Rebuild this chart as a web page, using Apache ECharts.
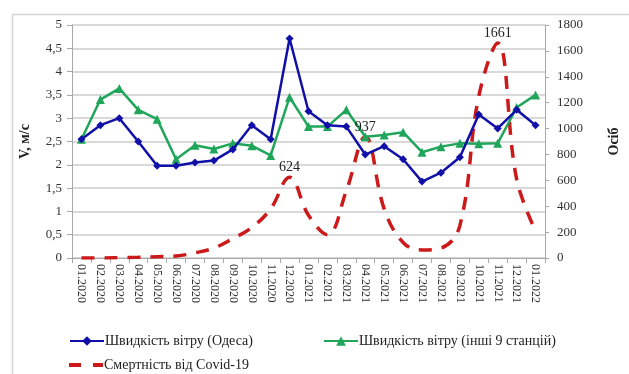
<!DOCTYPE html>
<html>
<head>
<meta charset="utf-8">
<script src="https://cdn.jsdelivr.net/npm/echarts@6/dist/echarts.min.js"></script>
<style>
html,body{margin:0;padding:0;background:#fff;}
#chart{width:629px;height:374px;}
</style>
</head>
<body>
<div id="chart"></div>
<script>
const categories = ['01.2020','02.2020','03.2020','04.2020','05.2020','06.2020','07.2020','08.2020','09.2020','10.2020','11.2020','12.2020',
  '01.2021','02.2021','03.2021','04.2021','05.2021','06.2021','07.2021','08.2021','09.2021','10.2021','11.2021','12.2021','01.2022'];
const windOdesa = [2.55, 2.85, 3.0, 2.5, 1.98, 1.98, 2.05, 2.09, 2.33, 2.85, 2.55, 4.71,
  3.15, 2.85, 2.82, 2.22, 2.4, 2.12, 1.64, 1.83, 2.16, 3.08, 2.78, 3.18, 2.85];
const windOther = [2.55, 3.4, 3.64, 3.18, 2.98, 2.12, 2.42, 2.34, 2.46, 2.41, 2.2, 3.45,
  2.82, 2.82, 3.18, 2.6, 2.64, 2.7, 2.27, 2.39, 2.46, 2.45, 2.46, 3.23, 3.5];
const covidDeaths = [0, 0, 2, 5, 10, 15, 40, 77, 150, 235, 380, 624,
  330, 180, 520, 937, 380, 120, 62, 77, 250, 1250, 1661, 610, 210];
const labelledPoints = [11, 15, 22];

const serif = '"Liberation Serif", "DejaVu Serif", serif';
const legendText = { fontFamily: serif, fontSize: 14, color: '#222', padding: [0,0,0,-4] };
const chart = echarts.init(document.getElementById('chart'));
chart.setOption({
  backgroundColor: '#fff',
  animation: false,
  textStyle: { fontFamily: serif },
  graphic: [{
    type: 'rect', left: 10, top: 12, silent: true,
    shape: { width: 660, height: 420 },
    style: { fill: 'none', stroke: '#d4d4d4', lineWidth: 1.5 }
  }],
  grid: { left: 72, right: 71, top: 25, bottom: 116 },
  legend: [
    { data: ['Швидкість вітру (Одеса)'], left: 64, top: 329, itemWidth: 34, itemHeight: 12, textStyle: legendText },
    { data: ['Швидкість вітру (інші 9 станцій)'], left: 318, top: 329, itemWidth: 34, itemHeight: 12, textStyle: legendText },
    { data: [{ name: 'Смертність від Covid-19',
        icon: 'path://M0,0 L12,0 L12,4 L0,4 Z M24,0 L34,0 L34,4 L24,4 Z' }],
      left: 64, top: 353, itemWidth: 34, itemHeight: 4, textStyle: legendText }
  ],
  xAxis: {
    type: 'category', data: categories, boundaryGap: true,
    axisLine: { lineStyle: { color: '#a8a8a8', width: 1 } },
    axisTick: { show: true, alignWithLabel: false, interval: 0, length: 5, lineStyle: { color: '#a8a8a8' } },
    axisLabel: { interval: 0, rotate: -90, fontSize: 12, color: '#333', fontFamily: serif, margin: 6 }
  },
  yAxis: [{
    type: 'value', min: 0, max: 5, interval: 0.5, position: 'left',
    name: 'V, м/с', nameLocation: 'middle', nameGap: 40, nameRotate: 90,
    nameTextStyle: { fontFamily: serif, fontSize: 14, fontWeight: 'bold', color: '#222' },
    axisLine: { show: true, lineStyle: { color: '#a8a8a8' } },
    axisTick: { show: true, length: 5, lineStyle: { color: '#a8a8a8' } },
    axisLabel: { fontSize: 13, color: '#333', fontFamily: serif, margin: 10,
      formatter: v => String(v).replace('.', ',') },
    splitLine: { show: true, lineStyle: { color: '#cdcdcd', width: 1.5 } }
  }, {
    type: 'value', min: 0, max: 1800, interval: 200, position: 'right',
    name: 'Осіб', nameLocation: 'middle', nameGap: 62, nameRotate: 90,
    nameTextStyle: { fontFamily: serif, fontSize: 14, fontWeight: 'bold', color: '#222' },
    axisLine: { show: true, lineStyle: { color: '#a8a8a8' } },
    axisTick: { show: true, length: 4, lineStyle: { color: '#a8a8a8' } },
    axisLabel: { fontSize: 13, color: '#333', fontFamily: serif, margin: 12, formatter: v => String(v) },
    splitLine: { show: false }
  }],
  series: [{
    name: 'Швидкість вітру (Одеса)', type: 'line', yAxisIndex: 0, data: windOdesa,
    symbol: 'diamond', symbolSize: 8, z: 4,
    lineStyle: { color: '#1010a8', width: 2.5 }, itemStyle: { color: '#1010a8' }
  }, {
    name: 'Швидкість вітру (інші 9 станцій)', type: 'line', yAxisIndex: 0, data: windOther,
    symbol: 'triangle', symbolSize: 9, z: 3,
    lineStyle: { color: '#1fa65a', width: 2.5 }, itemStyle: { color: '#1fa65a' }
  }, {
    name: 'Смертність від Covid-19', type: 'line', yAxisIndex: 1, data: covidDeaths,
    smooth: 0.4, symbol: 'none', z: 2,
    lineStyle: { color: '#cc1a1a', width: 3.5, type: [13, 10] }, itemStyle: { color: '#cc1a1a' },
    markPoint: {
      symbol: 'circle', symbolSize: 1, silent: true,
      itemStyle: { color: 'rgba(0,0,0,0)' },
      label: { show: true, position: 'top', distance: 2, fontSize: 14, color: '#222', fontFamily: serif,
        formatter: p => String(p.value) },
      data: labelledPoints.map(i => ({ coord: [i, covidDeaths[i]], value: covidDeaths[i] }))
    }
  }]
});
</script>
</body>
</html>
